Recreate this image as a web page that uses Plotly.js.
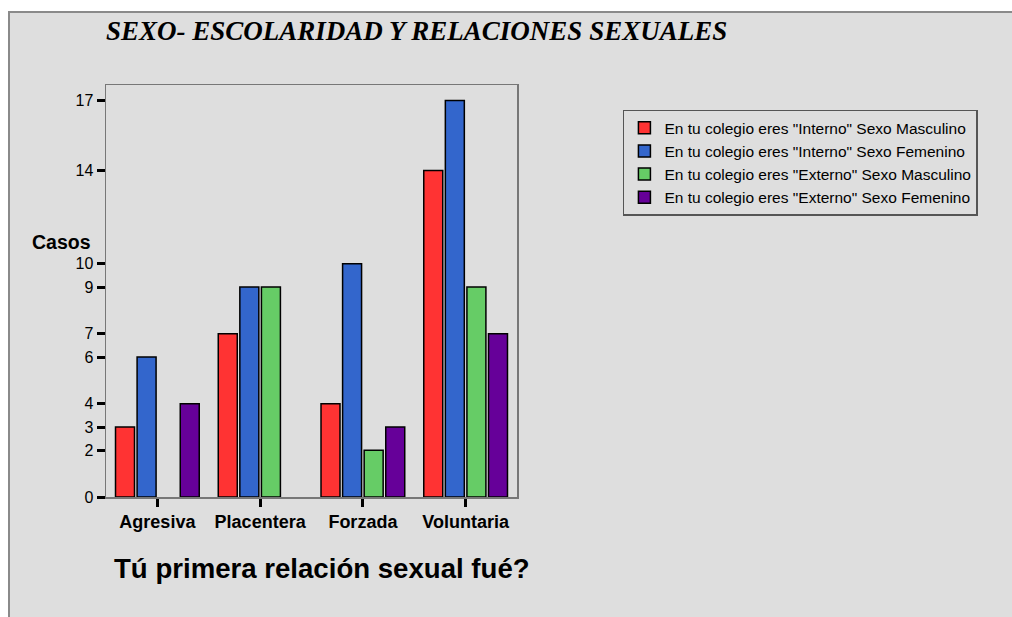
<!DOCTYPE html>
<html>
<head>
<meta charset="utf-8">
<script src="https://cdn.plot.ly/plotly-3.0.1.min.js"></script>
<style>
  html, body { margin: 0; padding: 0; background: #ffffff; width: 1012px; height: 617px; overflow: hidden; }
  #frame { position: absolute; left: 8px; top: 11px; width: 1004px; height: 606px;
           border-left: 2px solid #8a8a8a; border-top: 2px solid #8a8a8a; background: #dedede; }
  #chart { width: 1002px; height: 604px; }
</style>
</head>
<body>
<div id="frame"><div id="chart"></div></div>
<script>
const categories = ["Agresiva", "Placentera", "Forzada", "Voluntaria"];
const seriesNames = [
  'En tu colegio eres "Interno" Sexo Masculino',
  'En tu colegio eres "Interno" Sexo Femenino',
  'En tu colegio eres "Externo" Sexo Masculino',
  'En tu colegio eres "Externo" Sexo Femenino'
];
const internoMasculino = [3, 7, 4, 14];
const internoFemenino = [6, 9, 10, 17];
const externoMasculino = [0, 9, 2, 9];
const externoFemenino = [4, 0, 3, 7];
const yTickVals = [0, 2, 3, 4, 6, 7, 9, 10, 14, 17];

const colors = ["#ff3333", "#3366cc", "#66cc66", "#660099"];
const seriesValues = [internoMasculino, internoFemenino, externoMasculino, externoFemenino];

const traces = seriesValues.map((vals, i) => ({
  type: "bar",
  x: categories,
  // zero counts are not drawn (no empty outline at the baseline)
  y: vals.map(v => (v === 0 ? null : v)),
  name: seriesNames[i],
  marker: { color: colors[i], line: { color: "#000000", width: 1.5 } },
  hoverinfo: "x+y+name"
}));

const layout = {
  width: 1002,
  height: 604,
  paper_bgcolor: "#dedede",
  plot_bgcolor: "#dedede",
  margin: { l: 95.7, r: 495, t: 71.7, b: 120.3, pad: 0 },
  barmode: "group",
  bargap: 0.16,
  bargroupgap: 0.12,
  showlegend: true,
  legend: {
    x: 1.2577, y: 0.94, xanchor: "left", yanchor: "top",
    bgcolor: "rgba(0,0,0,0)", bordercolor: "#555555", borderwidth: 1.5,
    font: { family: "Liberation Sans, Arial, sans-serif", size: 15.5, color: "#000000" },
    traceorder: "normal"
  },
  xaxis: {
    type: "category",
    range: [-0.5, 3.5],
    showgrid: false, zeroline: false,
    showline: true, linecolor: "#777777", linewidth: 1.5, mirror: true,
    ticks: "outside", ticklen: 8, tickwidth: 3, tickcolor: "#000000",
    tickfont: { family: "Liberation Sans, Arial, sans-serif", size: 18, color: "#000000", weight: "bold" }
  },
  yaxis: {
    range: [0, 17.66],
    tickmode: "array", tickvals: yTickVals, ticktext: yTickVals.map(String),
    showgrid: false, zeroline: false,
    showline: true, linecolor: "#777777", linewidth: 1.5, mirror: true,
    ticks: "outside", ticklen: 8, tickwidth: 3, tickcolor: "#000000",
    tickfont: { family: "Liberation Sans, Arial, sans-serif", size: 16, color: "#000000" }
  },
  annotations: [
    {
      text: "<b><i>SEXO- ESCOLARIDAD Y RELACIONES SEXUALES</i></b>",
      xref: "paper", yref: "paper", x: -0.004, y: 1.13, xanchor: "left", yanchor: "middle",
      showarrow: false,
      font: { family: "Liberation Serif, Times New Roman, serif", size: 27, color: "#000000" }
    },
    {
      text: "<b>Casos</b>",
      xref: "paper", yref: "paper", x: -0.031, y: 0.6185, xanchor: "right", yanchor: "middle",
      showarrow: false,
      font: { family: "Liberation Sans, Arial, sans-serif", size: 19.5, color: "#000000" }
    },
    {
      text: "<b>Tú primera relación sexual fué?</b>",
      xref: "paper", yref: "paper", x: 0.0153, y: -0.173, xanchor: "left", yanchor: "middle",
      showarrow: false,
      font: { family: "Liberation Sans, Arial, sans-serif", size: 27.6, color: "#000000" }
    }
  ]
};

Plotly.newPlot("chart", traces, layout, { displayModeBar: false, staticPlot: true });
</script>
</body>
</html>
